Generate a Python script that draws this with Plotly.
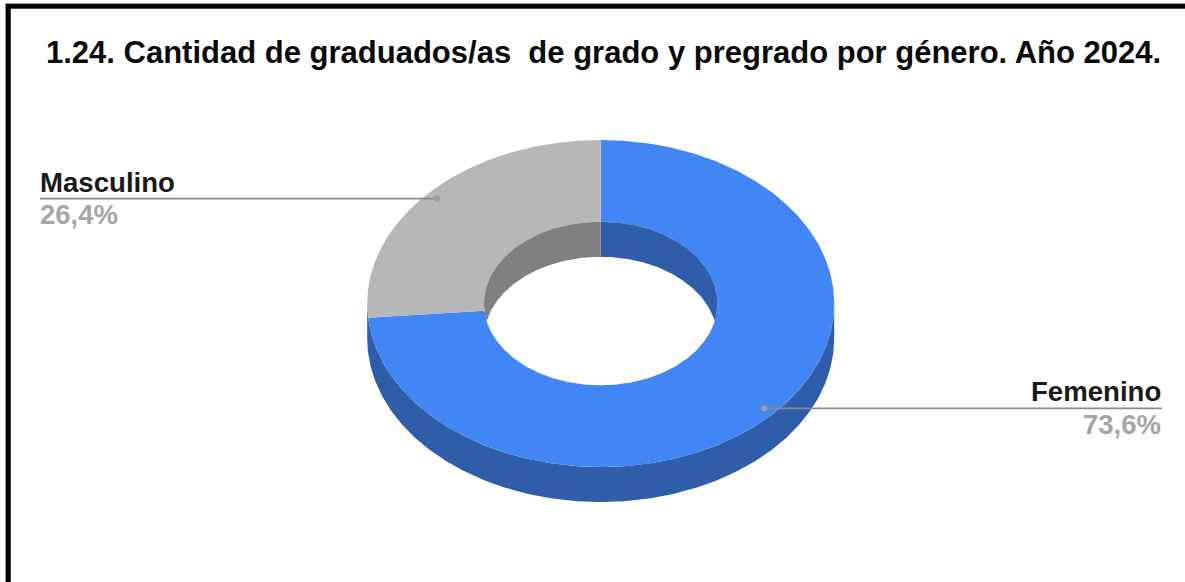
import numpy as np
import plotly.graph_objects as go

# ---- data ----
categories = ["Femenino", "Masculino"]
values = [73.6, 26.4]
title_text = "1.24. Cantidad de graduados/as  de grado y pregrado por género. Año 2024."

# ---- style / geometry ----
W, H = 1185, 582
face_colors = ["#4285F4", "#B7B7B7"]
wall_colors = ["#2E5DAA", "#808080"]
CX, CY, RX, RY = 600.7, 303.5, 233.5, 163.5
HOLE, DEPTH, K_LABEL = 0.5, 35, 0.95
FONT = "Liberation Sans, Arial, sans-serif"


def ell(t, k=1.0, dy=0.0):
    return CX + k * RX * np.sin(t), CY - k * RY * np.cos(t) + dy


def add_poly(fig, x, y, color):
    fig.add_trace(go.Scatter(x=list(x), y=list(y), mode="lines", fill="toself",
                             fillcolor=color, line=dict(width=0, color=color),
                             hoverinfo="skip", showlegend=False))


fig = go.Figure()
fracs = np.array(values) / sum(values)
edges = np.concatenate([[0], np.cumsum(fracs)]) * 2 * np.pi
mids = (edges[:-1] + edges[1:]) / 2

# outer side wall
t = np.linspace(np.pi / 2, 3 * np.pi / 2, 300)
x1, y1 = ell(t, dy=DEPTH)
x2, y2 = ell(t[::-1])
add_poly(fig, np.r_[x1, x2], np.r_[y1, y2], wall_colors[0])

# top faces
for i in range(len(values)):
    t = np.linspace(edges[i], edges[i + 1], 400)
    xo, yo = ell(t)
    xi, yi = ell(t[::-1], HOLE)
    add_poly(fig, np.r_[xo, xi], np.r_[yo, yi], face_colors[i])

# inner walls, then the white hole lens over them
hole_t = np.linspace(0, np.pi, 300)
xr, yr = ell(hole_t, HOLE)
add_poly(fig, np.r_[xr, CX], np.r_[yr, CY], wall_colors[0])
xl, yl = ell(-hole_t, HOLE)
add_poly(fig, np.r_[xl, CX], np.r_[yl, CY], wall_colors[1])

hrx, hry = HOLE * RX, HOLE * RY
ux = hrx * np.sqrt(1 - (DEPTH / 2 / hry) ** 2)
xs = np.linspace(-ux, ux, 400)
root = hry * np.sqrt(1 - (xs / hrx) ** 2)
add_poly(fig, np.r_[CX + xs, CX + xs[::-1]],
         np.r_[CY + DEPTH - root, (CY + root)[::-1]], "#FFFFFF")

# leader lines, dots and labels
ends = [1162, 40]
text_shift = [0, -1]
for i, name in enumerate(categories):
    px, py = ell(mids[i], K_LABEL)
    fig.add_trace(go.Scatter(x=[px, ends[i]], y=[py, py], mode="lines",
                             line=dict(color="#8A8A8A", width=1.6),
                             hoverinfo="skip", showlegend=False))
    fig.add_trace(go.Scatter(x=[px], y=[py], mode="markers",
                             marker=dict(color="#9E9E9E", size=6),
                             hoverinfo="skip", showlegend=False))
    anchor = "right" if ends[i] > CX else "left"
    pct = f"{values[i]:.1f}%".replace(".", ",")
    fig.add_annotation(x=ends[i] + text_shift[i], y=py, text=name, showarrow=False, xanchor=anchor,
                       yanchor="bottom", borderpad=0,
                       font=dict(family=FONT, size=27.6, color="#1A1A1A", weight="bold"))
    fig.add_annotation(x=ends[i] + text_shift[i], y=py - 0.5, text=pct, showarrow=False, xanchor=anchor,
                       yanchor="top", borderpad=0,
                       font=dict(family=FONT, size=27.5, color="#A6A6A6", weight="bold"))

fig.add_annotation(x=603, y=52.5, text=title_text, showarrow=False,
                   font=dict(family=FONT, size=31, color="#0A0A0A", weight="bold"))

# frame (top and left edges only)
shapes = [
    dict(type="rect", x0=5, x1=W, y0=3, y1=9, fillcolor="#9A9A9A", line_width=0, layer="below"),
    dict(type="rect", x0=5, x1=11, y0=3, y1=H, fillcolor="#9A9A9A", line_width=0, layer="below"),
    dict(type="rect", x0=6, x1=W, y0=4, y1=8.6, fillcolor="#000000", line_width=0, layer="below"),
    dict(type="rect", x0=6, x1=10.6, y0=4, y1=H, fillcolor="#000000", line_width=0, layer="below"),
]

fig.update_layout(
    width=W, height=H, margin=dict(l=0, r=0, t=0, b=0),
    paper_bgcolor="white", plot_bgcolor="white", showlegend=False, shapes=shapes,
    xaxis=dict(range=[0, W], visible=False, fixedrange=True),
    yaxis=dict(range=[H, 0], visible=False, fixedrange=True),
)
fig.write_html("out.html", config={"displayModeBar": False},
               post_script="document.body.style.margin='0';document.documentElement.style.overflow='hidden';")
